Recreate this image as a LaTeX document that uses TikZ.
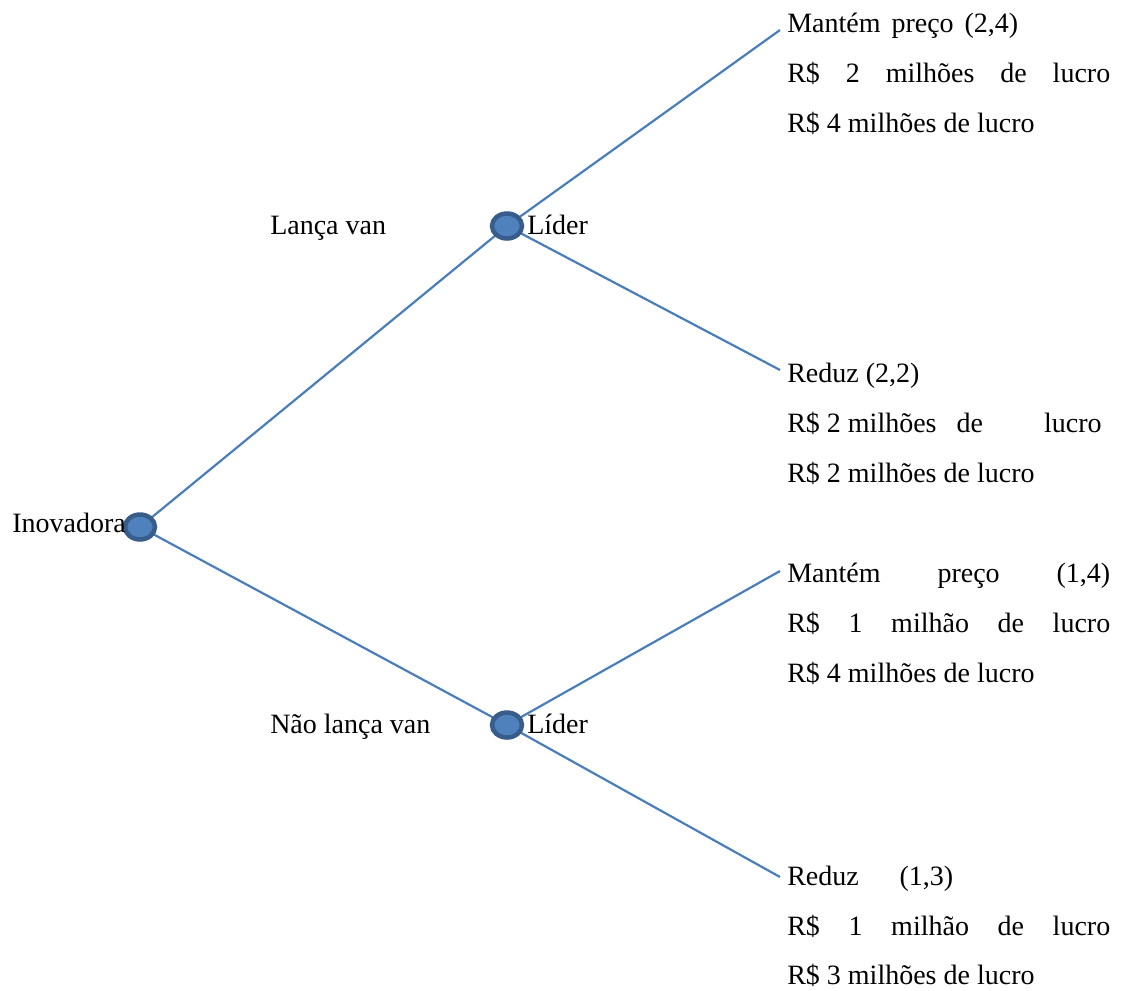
\documentclass[tikz,border=0pt]{standalone}
\usepackage{fontspec}
\setmainfont{Liberation Serif}
\usetikzlibrary{shapes.geometric,backgrounds}
\newlength\px \setlength\px{0.75pt}
\definecolor{edgeblue}{HTML}{4A7EBB}
\definecolor{ringblue}{HTML}{385D8A}
\definecolor{fillblue}{HTML}{4F81BD}
\tikzset{
  decision/.style={ellipse, draw=ringblue, fill=fillblue, line width=4.5\px,
    minimum width=30\px, minimum height=25\px, inner sep=0pt},
  branch/.style={draw=edgeblue, line width=2.2\px},
  lbl/.style={anchor=base west, inner sep=0pt, font=\fontsize{21}{25}\selectfont},
}
\newcommand\wide[2]{\makebox[#1\px][s]{#2}}
\begin{document}
\begin{tikzpicture}[x=0.75pt,y=-0.75pt]
\useasboundingbox (0,0) rectangle (1121,990);

% decision points
\node[decision] (ino) at (140,527) {};
\node[decision] (lid1) at (507,226) {};
\node[decision] (lid2) at (507,725) {};

% player and move labels
\node[lbl] (tino) at (12,532) {Inovadora};
\node[lbl] (tlanca) at (270,234) {Lança van};
\node[lbl] (tnao) at (270,733) {Não lança van};
\node[lbl] (tlid1) at (527,234) {Líder};
\node[lbl] (tlid2) at (527,733) {Líder};

% outcomes after launching the van
\node[lbl] (a1) at (787,32) {\wide{231}{Mantém preço (2,4)}};
\node[lbl] (a2) at (787,82) {\wide{323}{R\$ 2 milhões de lucro}};
\node[lbl] (a3) at (787,132) {R\$ 4 milhões de lucro};
\node[lbl] (b1) at (787,382) {Reduz (2,2)};
\node[lbl] (b2) at (787,432) {R\$ 2 milhões\hspace{20\px}de\hspace{61\px}lucro};
\node[lbl] (b3) at (787,482) {R\$ 2 milhões de lucro};

% outcomes without launching the van
\node[lbl] (c1) at (787,582) {\wide{323}{Mantém preço (1,4)}};
\node[lbl] (c2) at (787,632) {\wide{323}{R\$ 1 milhão de lucro}};
\node[lbl] (c3) at (787,682) {R\$ 4 milhões de lucro};
\node[lbl] (d1) at (787,885) {\wide{166}{Reduz (1,3)}};
\node[lbl] (d2) at (787,935) {\wide{323}{R\$ 1 milhão de lucro}};
\node[lbl] (d3) at (787,984) {R\$ 3 milhões de lucro};

% branch ends at the outcome labels
\coordinate (ea) at (780,30);
\coordinate (eb) at (780,370);
\coordinate (ec) at (780,571);
\coordinate (ed) at (780,877);

\begin{pgfonlayer}{background}
  \draw[branch] (ino.center) -- (lid1.center);
  \draw[branch] (ino.center) -- (lid2.center);
  \draw[branch] (lid1.center) -- (ea);
  \draw[branch] (lid1.center) -- (eb);
  \draw[branch] (lid2.center) -- (ec);
  \draw[branch] (lid2.center) -- (ed);
\end{pgfonlayer}
\end{tikzpicture}
\end{document}
